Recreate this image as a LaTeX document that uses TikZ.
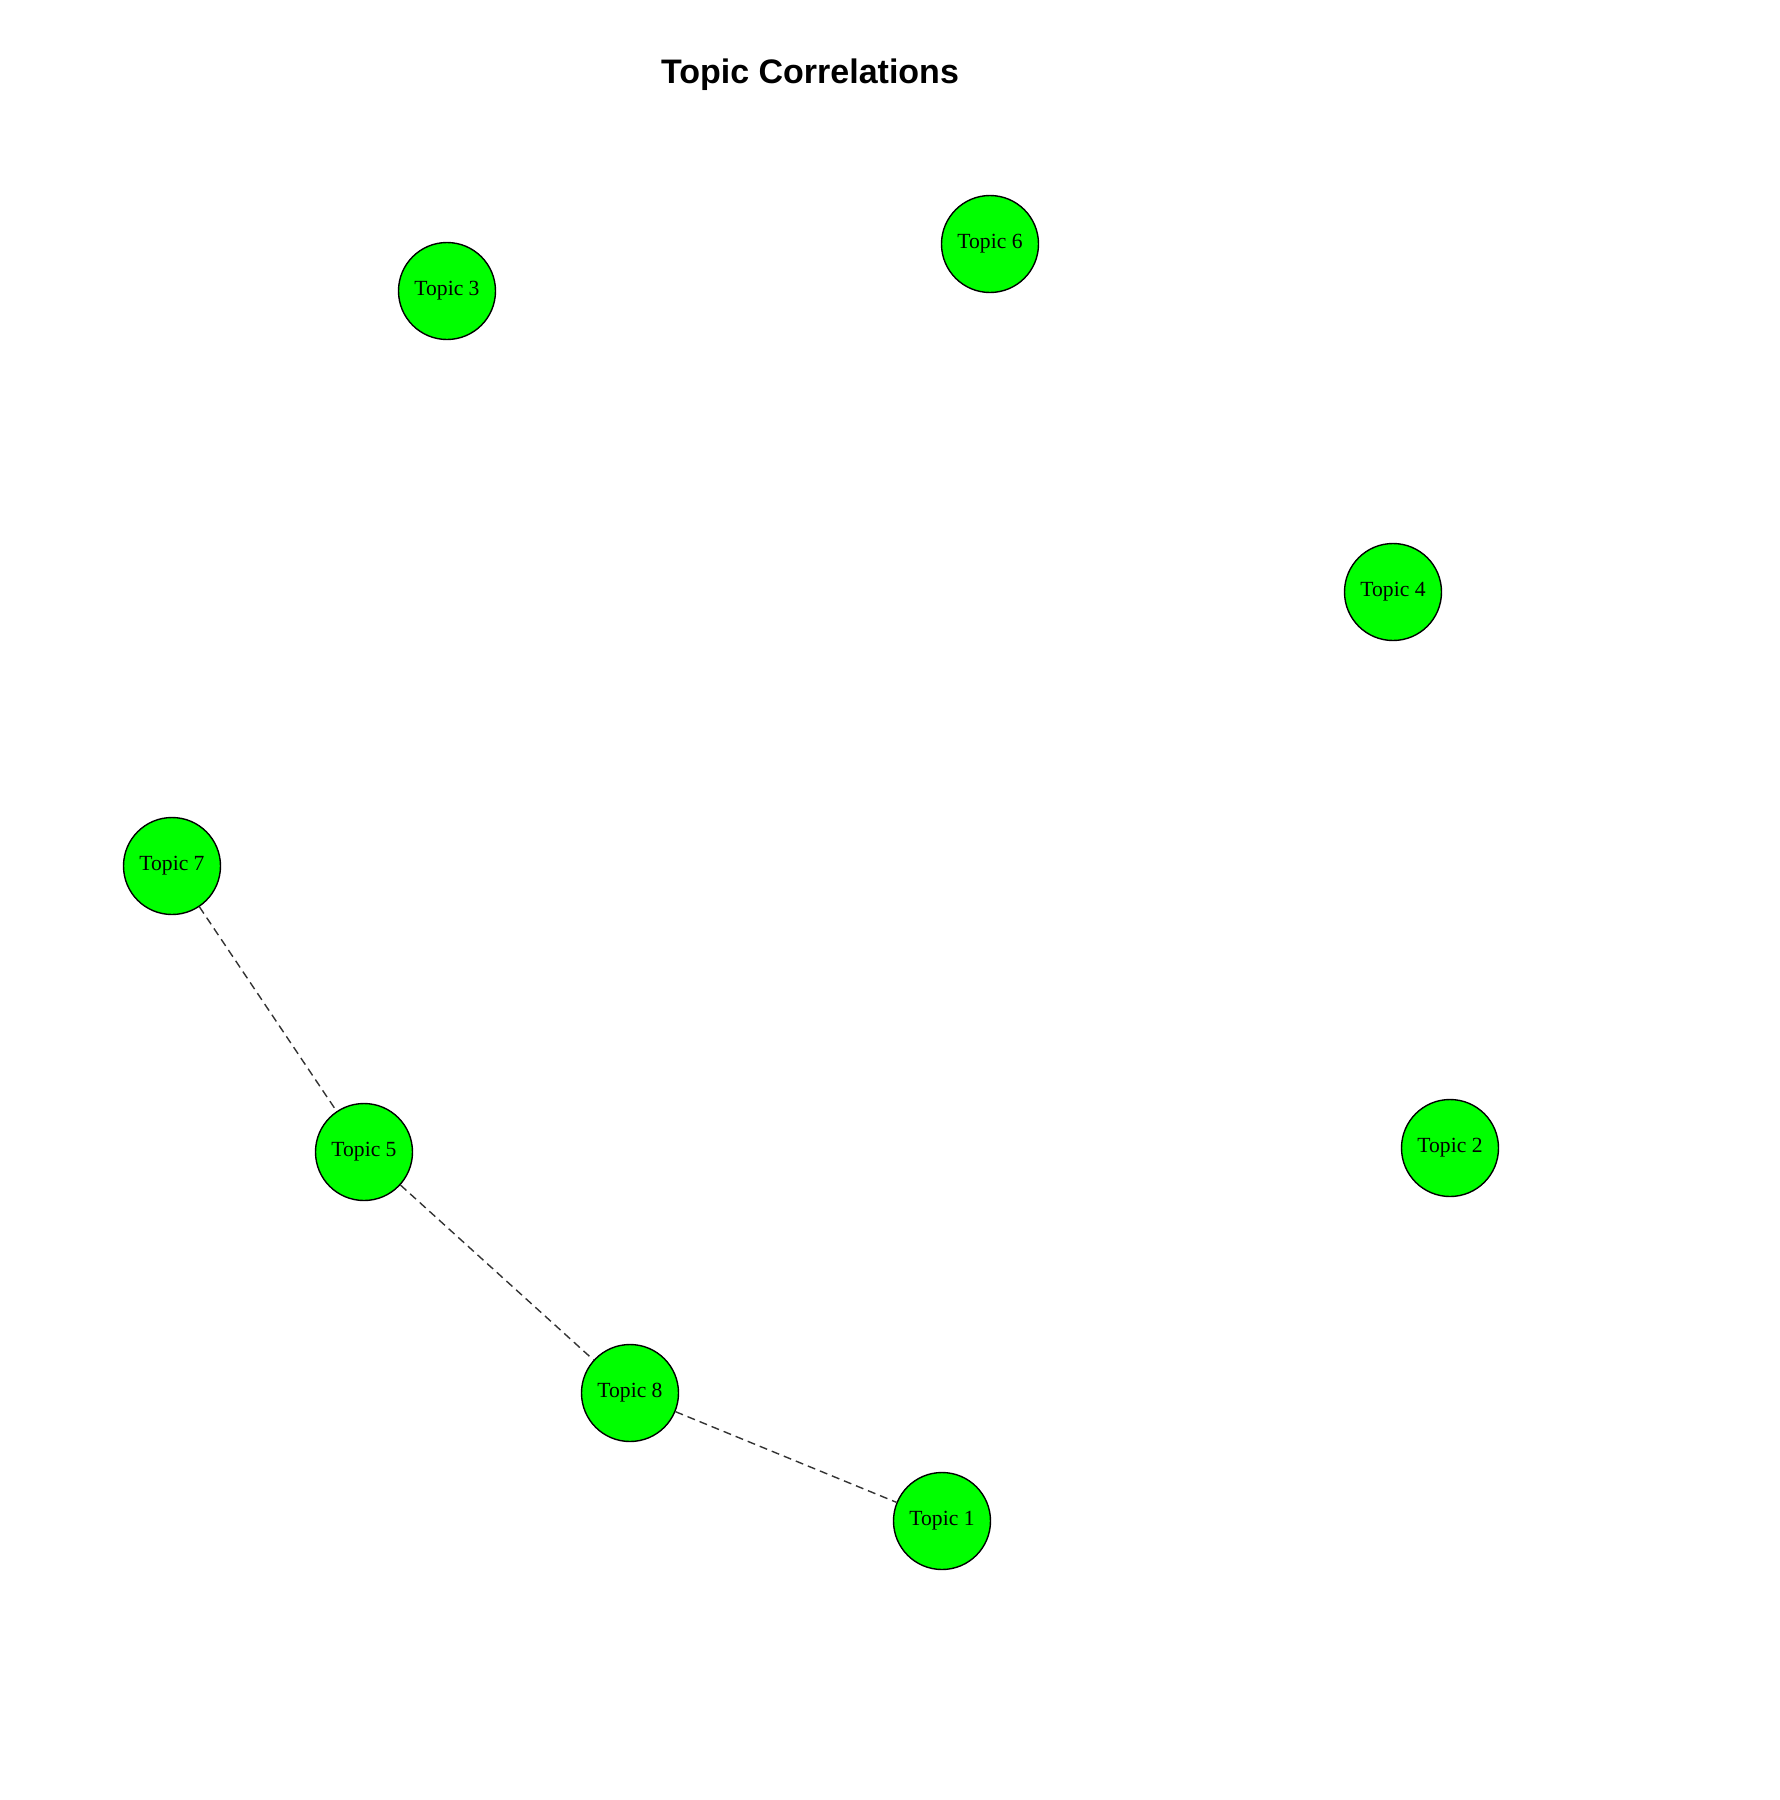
\documentclass[tikz,border=0pt]{standalone}
\usepackage{fontspec}
\setmainfont{Liberation Serif}
\newfontfamily\titlefont{Liberation Sans}
\definecolor{nodegreen}{HTML}{00FF00}
\definecolor{edgegray}{HTML}{333333}
\begin{document}
\begin{tikzpicture}[x=0.5pt,y=-0.5pt,
  topic/.style={circle,draw=black,line width=0.7pt,fill=nodegreen,minimum size=48.5pt,inner sep=0pt,font=\fontsize{10.8}{12}\selectfont},
  corr/.style={draw=edgegray,line width=0.7pt,dash pattern=on 4pt off 2.5pt}]
\useasboundingbox (0,0) rectangle (1780,1800);
\node[font=\titlefont\bfseries\fontsize{17}{20}\selectfont] (title) at (810,75) {Topic Correlations};
\node[topic] (t3) at (447,291) {Topic 3};
\node[topic] (t6) at (990,244) {Topic 6};
\node[topic] (t4) at (1393,592) {Topic 4};
\node[topic] (t7) at (172,866) {Topic 7};
\node[topic] (t5) at (364,1152) {Topic 5};
\node[topic] (t2) at (1450,1148) {Topic 2};
\node[topic] (t8) at (630,1393) {Topic 8};
\node[topic] (t1) at (942,1521) {Topic 1};
\draw[corr] (t7) -- (t5);
\draw[corr] (t5) -- (t8);
\draw[corr] (t8) -- (t1);
\end{tikzpicture}
\end{document}
